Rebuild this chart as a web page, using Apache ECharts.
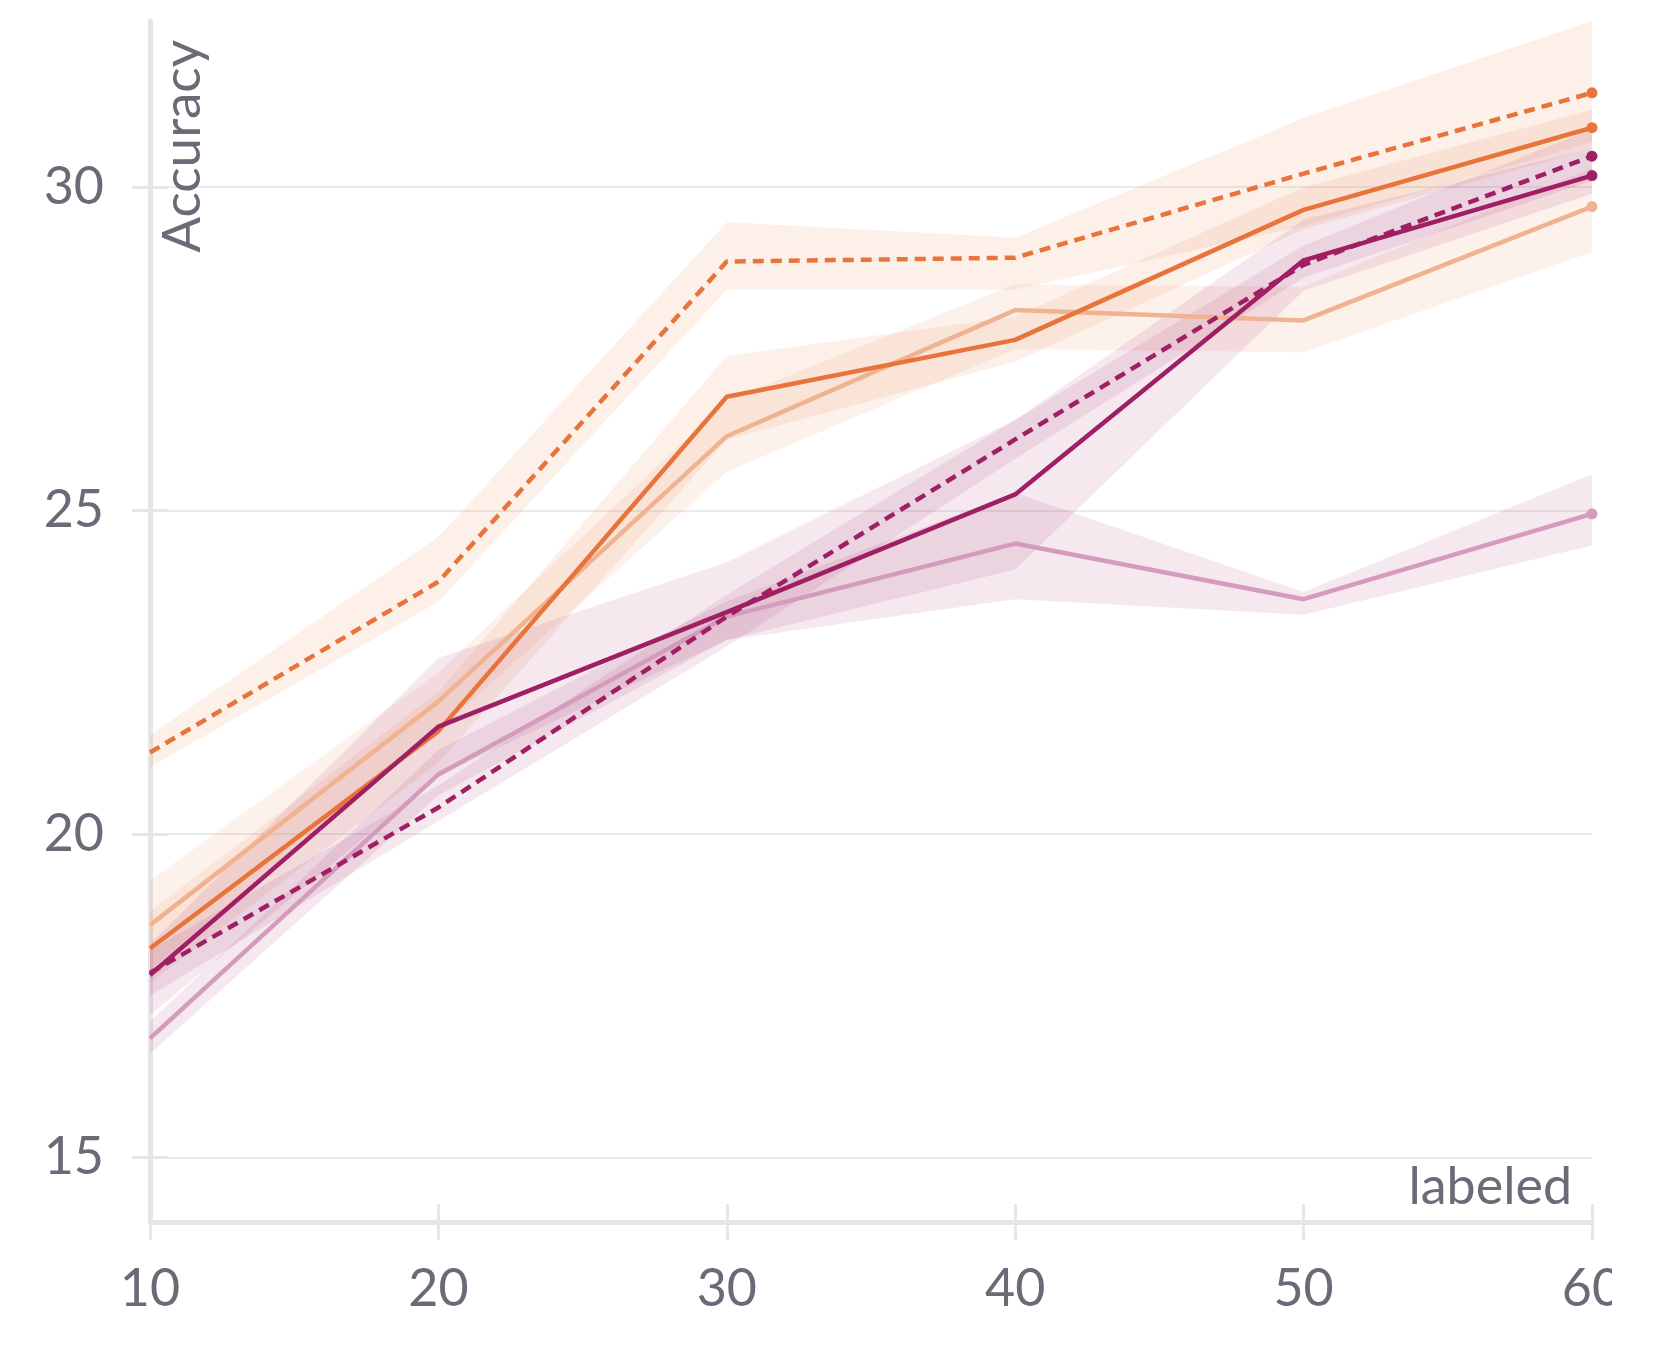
<!DOCTYPE html>
<html>
<head>
<meta charset="utf-8">
<script src="https://cdn.jsdelivr.net/npm/echarts@6/dist/echarts.min.js"></script>
<style>
html,body{margin:0;padding:0;background:#ffffff;}
#chart{width:1612px;height:1369px;}
</style>
</head>
<body>
<div id="chart"></div>
<script>
// x positions (labeled)
const labeled = [10, 20, 30, 40, 50, 60];
const yTicks = [15, 20, 25, 30];

// orange dashed
const orangeDashed   = [21.26, 23.90, 28.85, 28.91, 30.21, 31.46];
const orangeDashedLo = [21.03, 23.59, 28.42, 28.42, 29.40, 30.70];
const orangeDashedHi = [21.53, 24.59, 29.46, 29.22, 31.07, 32.57];
// orange solid
const orangeSolid    = [18.23, 21.59, 26.76, 27.64, 29.65, 30.92];
const orangeSolidLo  = [17.70, 21.10, 26.10, 27.30, 29.35, 30.60];
const orangeSolidHi  = [18.80, 22.20, 27.39, 28.00, 30.00, 31.20];
// light orange solid
const salmon         = [18.59, 22.05, 26.15, 28.10, 27.94, 29.70];
const salmonLo       = [17.90, 21.60, 25.60, 27.50, 27.45, 29.00];
const salmonHi       = [19.28, 22.50, 26.70, 28.50, 28.46, 30.30];
// magenta solid
const magentaSolid   = [17.82, 21.66, 23.43, 25.25, 28.87, 30.18];
const magentaSolidLo = [17.20, 20.90, 23.00, 24.09, 28.40, 29.90];
const magentaSolidHi = [18.30, 22.72, 24.20, 26.40, 29.50, 30.60];
// magenta dashed
const magentaDashed   = [17.85, 20.41, 23.36, 26.10, 28.80, 30.48];
const magentaDashedLo = [17.50, 20.20, 22.90, 25.80, 28.60, 30.10];
const magentaDashedHi = [18.20, 20.75, 23.70, 26.40, 29.10, 30.90];
// light pink solid
const pink   = [16.84, 20.92, 23.36, 24.49, 23.63, 24.95];
const pinkLo = [16.60, 20.60, 23.00, 23.63, 23.39, 24.46];
const pinkHi = [17.10, 21.30, 23.60, 25.27, 23.74, 25.56];

const ORANGE = '#e8743b', SALMON = '#f0b391', MAGENTA = '#9e1f63', PINK = '#d49bbd';
const AXIS = '#e6e6e9', GRID = '#ebebeb', TXT = '#6b6b78';
const FONT = 'Lato';

const pairs = (arr) => labeled.map((x, i) => [x, arr[i]]);

function band(lo, hi, color) {
  return {
    type: 'custom', silent: true, z: 1,
    data: [[labeled[0], lo[0]]],
    renderItem: function (params, api) {
      const pts = [];
      for (let i = 0; i < labeled.length; i++) pts.push(api.coord([labeled[i], hi[i]]));
      for (let i = labeled.length - 1; i >= 0; i--) pts.push(api.coord([labeled[i], lo[i]]));
      return {type: 'polygon', shape: {points: pts}, style: {fill: color}};
    }
  };
}

function line(arr, color, dashed) {
  const last = arr.length - 1;
  return {
    type: 'line', data: pairs(arr), z: 3,
    symbol: 'circle', showSymbol: true,
    symbolSize: (v, p) => (p.dataIndex === last ? 11 : 0),
    itemStyle: {color: color},
    lineStyle: {color: color, width: 4.5, type: dashed ? [11, 7] : 'solid'}
  };
}

const series = [
  band(orangeDashedLo, orangeDashedHi, 'rgba(232,116,59,0.11)'),
  band(orangeSolidLo, orangeSolidHi, 'rgba(232,116,59,0.11)'),
  band(salmonLo, salmonHi, 'rgba(232,116,59,0.10)'),
  band(magentaSolidLo, magentaSolidHi, 'rgba(158,31,99,0.10)'),
  band(magentaDashedLo, magentaDashedHi, 'rgba(158,31,99,0.10)'),
  band(pinkLo, pinkHi, 'rgba(158,31,99,0.10)'),
  line(salmon, SALMON, false),
  line(pink, PINK, false),
  line(orangeSolid, ORANGE, false),
  line(orangeDashed, ORANGE, true),
  line(magentaDashed, MAGENTA, true),
  line(magentaSolid, MAGENTA, false)
];

const chart = echarts.init(document.getElementById('chart'), null, {renderer: 'canvas'});
chart.setOption({
  animation: false,
  backgroundColor: '#ffffff',
  grid: {left: 150, right: 20, top: 21, bottom: 147, containLabel: false, outerBoundsMode: 'none'},
  xAxis: [
    {type: 'value', min: 10, max: 60, interval: 10, position: 'bottom',
     name: 'labeled', nameLocation: 'end', nameGap: -20,
     nameTextStyle: {fontFamily: FONT, fontSize: 52, color: TXT, align: 'right',
                     verticalAlign: 'bottom', lineHeight: 52, padding: [0, 0, 9, 0]},
     axisLine: {show: true, onZero: false, lineStyle: {color: AXIS, width: 5}},
     axisTick: {show: true, length: 18, inside: false, lineStyle: {color: AXIS, width: 3}},
     axisLabel: {fontFamily: FONT, fontSize: 52, color: TXT, margin: 41,
                 formatter: (v) => String(v)},
     splitLine: {show: false}},
    {type: 'value', min: 10, max: 60, interval: 10, position: 'bottom',
     axisLine: {show: false}, axisLabel: {show: false}, splitLine: {show: false},
     axisTick: {show: true, length: 18, inside: true, lineStyle: {color: AXIS, width: 3}}}
  ],
  yAxis: [
    {type: 'value', min: 14, max: 32.57, position: 'left',
     name: 'Accuracy', nameLocation: 'end', nameGap: -19, nameRotate: 90,
     nameTextStyle: {fontFamily: FONT, fontSize: 53, color: TXT, align: 'right',
                     verticalAlign: 'top', lineHeight: 53, padding: [6, 0, 0, 0]},
     axisLine: {show: true, onZero: false, lineStyle: {color: AXIS, width: 5}},
     axisTick: {show: true, length: 18, inside: false, customValues: yTicks,
                lineStyle: {color: AXIS, width: 3}},
     axisLabel: {fontFamily: FONT, fontSize: 52, color: TXT, margin: 46, customValues: yTicks},
     splitLine: {show: true, lineStyle: {color: GRID, width: 2}}},
    {type: 'value', min: 14, max: 32.57, position: 'left',
     axisLine: {show: false}, axisLabel: {show: false}, splitLine: {show: false},
     axisTick: {show: true, length: 18, inside: true, customValues: yTicks,
                lineStyle: {color: AXIS, width: 3}}}
  ],
  series: series
});
</script>
</body>
</html>
